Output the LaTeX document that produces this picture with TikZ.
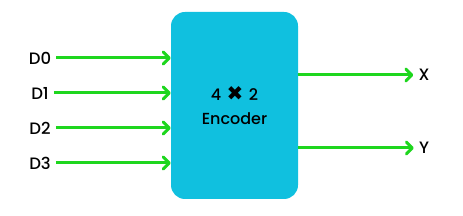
\documentclass[tikz,border=0pt]{standalone}
\usepackage{fontspec}
\setmainfont{Poppins Medium}
\newfontfamily\symfont{DejaVu Sans}
\usetikzlibrary{arrows.meta,positioning}
\definecolor{enccyan}{HTML}{10C0DF}
\definecolor{wiregreen}{HTML}{1ED61E}

\begin{document}
\begin{tikzpicture}[x=1pt, y=-1pt, >=Stealth,
    block/.style={rectangle, rounded corners=14pt, fill=enccyan, minimum width=127pt, minimum height=187pt, align=center, font=\fontsize{16}{24}\selectfont},
    pin/.style={inner sep=0pt, font=\fontsize{16.5}{18}\selectfont},
    line/.style={draw=wiregreen, line width=3pt, -{Straight Barb[length=6pt, width=12pt, line width=3pt, round]}}]

    \useasboundingbox (0,0) rectangle (463,216);

    \node [block] (enc) at (234.5,105.5) {4\,\,{\symfont\fontsize{20}{20}\selectfont ✖}\,\,2\\Encoder};

    \node [pin] (d0) at (40,58) {D0};
    \node [pin] (d1) at (40,93) {D1};
    \node [pin] (d2) at (40,128) {D2};
    \node [pin] (d3) at (40,163) {D3};
    \node [pin] (x) at (424,75) {X};
    \node [pin] (y) at (424,148) {Y};

    \path [line] ([xshift=5pt]d0.east) -- (d0 -| enc.west);
    \path [line] ([xshift=5pt]d1.east) -- (d1 -| enc.west);
    \path [line] ([xshift=5pt]d2.east) -- (d2 -| enc.west);
    \path [line] ([xshift=5pt]d3.east) -- (d3 -| enc.west);
    \path [line] (x -| enc.east) -- ([xshift=-5pt]x.west);
    \path [line] (y -| enc.east) -- ([xshift=-5pt]y.west);
  \end{tikzpicture}
\end{document}
